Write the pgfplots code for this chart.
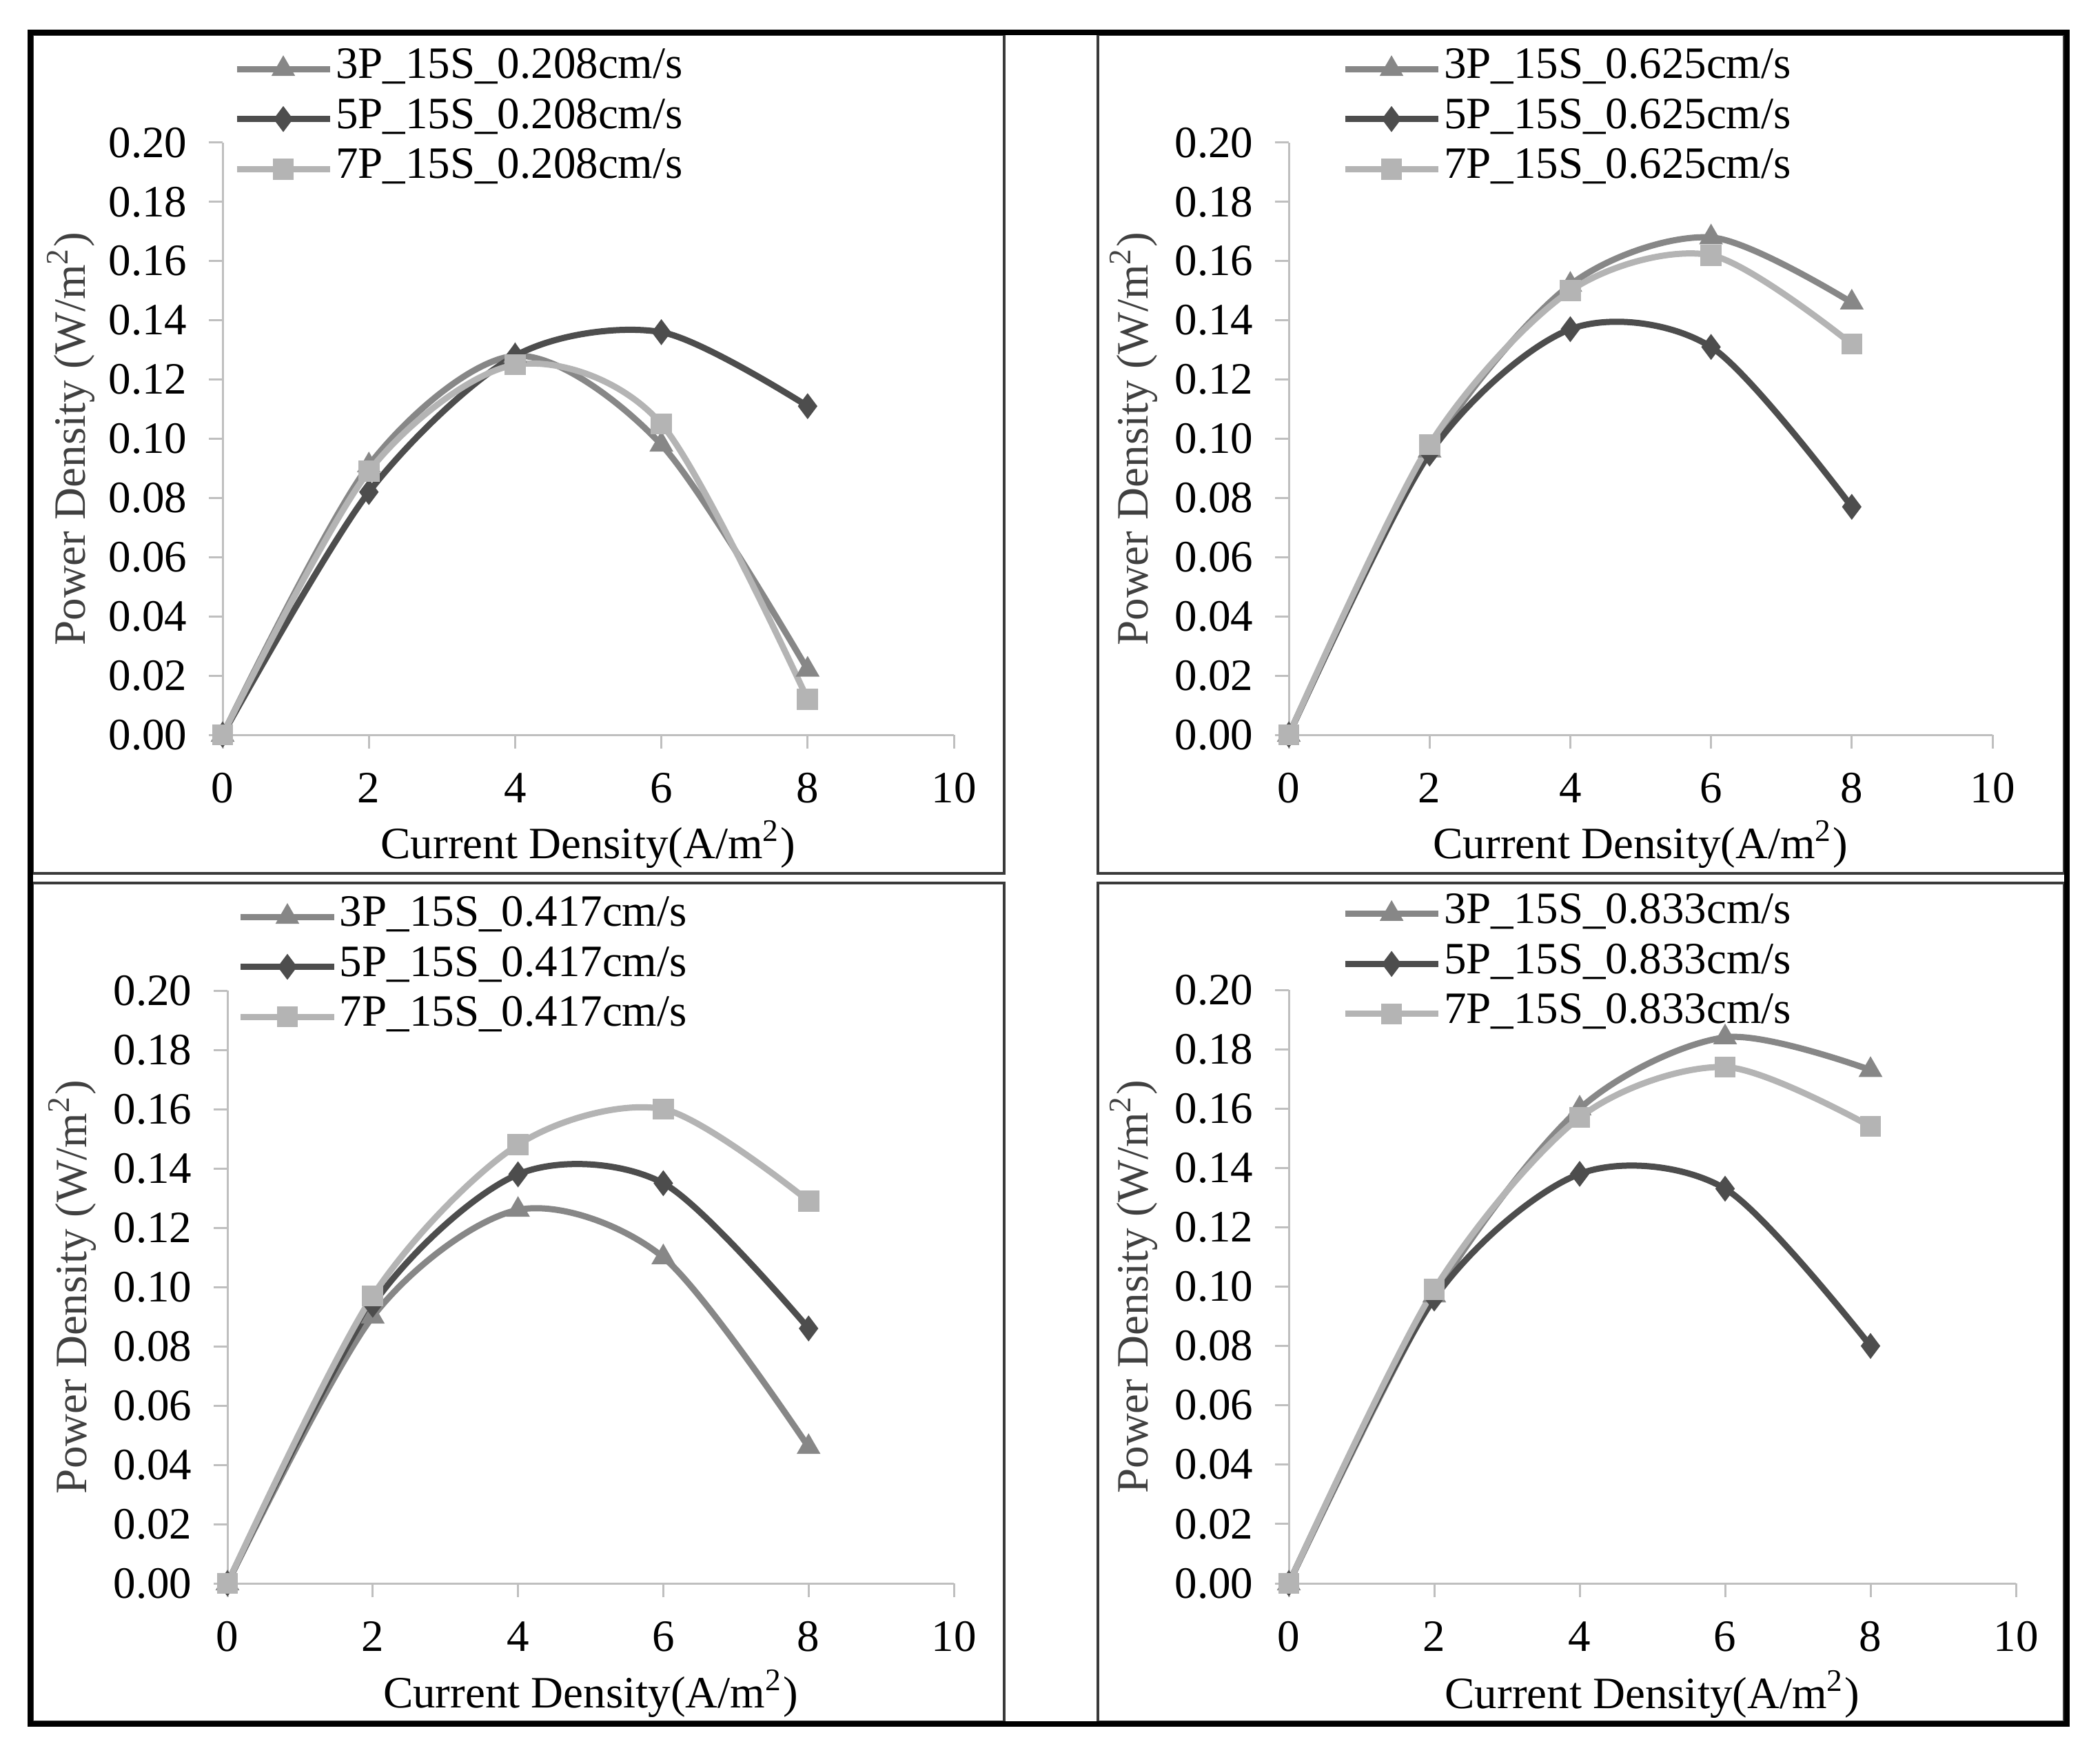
\documentclass[border=0pt]{standalone}
\usepackage{fontspec}
\setmainfont{Liberation Serif}
\usepackage{pgfplots}
\pgfplotsset{compat=1.18}
\usepackage{pgfplotstable}

\definecolor{cthree}{HTML}{878787}
\definecolor{cfive}{HTML}{4D4D4D}
\definecolor{cseven}{HTML}{B4B4B4}
\definecolor{axgray}{HTML}{BFBFBF}
\definecolor{boxgray}{HTML}{3A3A3A}
\definecolor{ylab}{HTML}{404040}

\newcommand{\fs}{\fontsize{9.75}{11}\selectfont}

% 0.208 cm/s
\pgfplotstableread{
x p3 p5 p7
0 0 0 0
2 0.091 0.082 0.089
4 0.128 0.128 0.125
6 0.098 0.136 0.105
8 0.022 0.111 0.012
}\tA
% 0.625 cm/s
\pgfplotstableread{
x p3 p5 p7
0 0 0 0
2 0.096 0.095 0.098
4 0.152 0.137 0.150
6 0.168 0.131 0.162
8 0.146 0.077 0.132
}\tB
% 0.417 cm/s
\pgfplotstableread{
x p3 p5 p7
0 0 0 0
2 0.090 0.094 0.097
4 0.126 0.138 0.148
6 0.110 0.135 0.160
8 0.046 0.086 0.129
}\tC
% 0.833 cm/s
\pgfplotstableread{
x p3 p5 p7
0 0 0 0
2 0.097 0.096 0.099
4 0.160 0.138 0.157
6 0.184 0.133 0.174
8 0.173 0.080 0.154
}\tD

\pgfplotsset{
  panel/.style={
    scale only axis, clip=false,
    anchor=south west,
    xmin=0, xmax=10, ymin=0, ymax=0.2,
    axis x line*=bottom, axis y line*=left,
    axis line style={draw=axgray, line width=0.45pt},
    xtick={0,2,4,6,8,10},
    ytick={0,0.02,0.04,0.06,0.08,0.10,0.12,0.14,0.16,0.18,0.20},
    scaled y ticks=false,
    tick align=outside, major tick length=3pt,
    tick style={draw=axgray, line width=0.45pt},
    /pgf/number format/assume math mode=true,
    yticklabel style={/pgf/number format/.cd, fixed, fixed zerofill, precision=2, /tikz/.cd, xshift=-1.2pt},
    xticklabel style={yshift=-1.8pt},
    ticklabel style={font=\fs, text=black},
    xlabel={Current Density(A/m\textsuperscript{2})},
    ylabel={Power Density (W/m\textsuperscript{2})},
    xlabel style={font=\fs, text=black, anchor=center},
    ylabel style={font=\fs, text=ylab, anchor=center},
    legend cell align=left,
    legend image code/.code={\draw[mark repeat=2,mark phase=2,##1] plot coordinates {(0pt,0pt) (10.125pt,0pt) (20.25pt,0pt)};},
    legend style={draw=none, fill=none, anchor=north west, inner sep=0pt, outer sep=0pt,
      row sep=0pt, column sep=0.6pt,
      nodes={inner sep=0pt, text height=7.5pt, text depth=3.375pt, font=\fs}},
  },
  sthree/.style={cthree, line width=1.35pt, smooth, mark=triangle*, mark size=2.6pt, mark options={solid, fill=cthree, draw=cthree, line width=0.4pt}},
  sfive/.style={cfive, line width=1.35pt, smooth, mark=diamond*, mark size=2.5pt, mark options={solid, fill=cfive, draw=cfive, line width=0.4pt}},
  sseven/.style={cseven, line width=1.35pt, smooth, mark=square*, mark size=2.1pt, mark options={solid, fill=cseven, draw=cseven, line width=0.4pt}},
}

\begin{document}
\begin{tikzpicture}
\useasboundingbox (0,0) rectangle (457.05pt,-381.9pt);
% panel frames
\draw[boxgray, line width=0.5pt] (7.05pt,-7.5pt) rectangle (218.55pt,-190.05pt);
\draw[boxgray, line width=0.5pt] (238.95pt,-7.5pt) rectangle (449.25pt,-190.05pt);
\draw[boxgray, line width=0.5pt] (7.05pt,-192.15pt) rectangle (218.55pt,-374.7pt);
\draw[boxgray, line width=0.5pt] (238.95pt,-192.15pt) rectangle (449.25pt,-374.7pt);

% top left: 0.208
\begin{axis}[panel, at={(48.45pt,-159.9pt)}, width=159.15pt, height=128.85pt,
  xlabel style={at={(axis description cs:0.5,-0.1851)}},
  ylabel style={at={(axis description cs:-0.2074,0.5)}},
  legend style={at={(axis description cs:0.0151,1.1665)}}]
\addplot[sthree] table[x=x,y=p3]{\tA}; \addlegendentry{3P\_15S\_0.208cm/s}
\addplot[sfive] table[x=x,y=p5]{\tA}; \addlegendentry{5P\_15S\_0.208cm/s}
\addplot[sseven] table[x=x,y=p7]{\tA}; \addlegendentry{7P\_15S\_0.208cm/s}
\end{axis}

% top right: 0.625
\begin{axis}[panel, at={(280.5pt,-159.9pt)}, width=153.15pt, height=128.85pt,
  xlabel style={at={(axis description cs:0.5,-0.1851)}},
  ylabel style={at={(axis description cs:-0.2204,0.5)}},
  legend style={at={(axis description cs:0.0754,1.1665)}}]
\addplot[sthree] table[x=x,y=p3]{\tB}; \addlegendentry{3P\_15S\_0.625cm/s}
\addplot[sfive] table[x=x,y=p5]{\tB}; \addlegendentry{5P\_15S\_0.625cm/s}
\addplot[sseven] table[x=x,y=p7]{\tB}; \addlegendentry{7P\_15S\_0.625cm/s}
\end{axis}

% bottom left: 0.417
\begin{axis}[panel, at={(49.5pt,-344.55pt)}, width=158.1pt, height=129pt,
  xlabel style={at={(axis description cs:0.5,-0.186)}},
  ylabel style={at={(axis description cs:-0.2135,0.5)}},
  legend style={at={(axis description cs:0.0142,1.1665)}}]
\addplot[sthree] table[x=x,y=p3]{\tC}; \addlegendentry{3P\_15S\_0.417cm/s}
\addplot[sfive] table[x=x,y=p5]{\tC}; \addlegendentry{5P\_15S\_0.417cm/s}
\addplot[sseven] table[x=x,y=p7]{\tC}; \addlegendentry{7P\_15S\_0.417cm/s}
\end{axis}

% bottom right: 0.833
\begin{axis}[panel, at={(280.5pt,-344.55pt)}, width=158.25pt, height=129.15pt,
  xlabel style={at={(axis description cs:0.5,-0.187)}},
  ylabel style={at={(axis description cs:-0.2133,0.5)}},
  legend style={at={(axis description cs:0.0731,1.1700)}}]
\addplot[sthree] table[x=x,y=p3]{\tD}; \addlegendentry{3P\_15S\_0.833cm/s}
\addplot[sfive] table[x=x,y=p5]{\tD}; \addlegendentry{5P\_15S\_0.833cm/s}
\addplot[sseven] table[x=x,y=p7]{\tD}; \addlegendentry{7P\_15S\_0.833cm/s}
\end{axis}

% outer frame
\draw[black, line width=1.2pt] (6.6pt,-7.05pt) rectangle (449.775pt,-375.15pt);
\end{tikzpicture}
\end{document}
